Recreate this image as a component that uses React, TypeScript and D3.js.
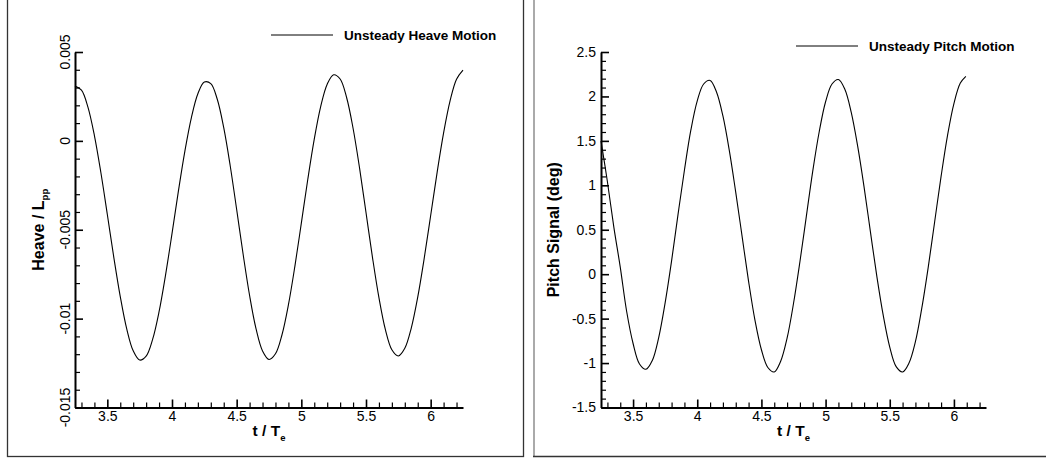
import React, { useEffect, useRef } from "react";
import * as d3 from "d3";

// time axis (t / Te) and tick labels shared by both panels
const xDomain = [3.25, 6.25];
const xTicks = [3.5, 4, 4.5, 5, 5.5, 6];
const xTickLabels = ["3.5", "4", "4.5", "5", "5.5", "6"];

// heave signal
const heaveTime = [
  3.25, 3.3, 3.35, 3.4, 3.45, 3.5, 3.55, 3.6, 3.65, 3.7, 3.75, 3.8, 3.85, 3.9, 3.95,
  4.0, 4.05, 4.1, 4.15, 4.2, 4.25, 4.3, 4.35, 4.4, 4.45, 4.5, 4.55, 4.6, 4.65, 4.7, 4.75,
  4.8, 4.85, 4.9, 4.95, 5.0, 5.05, 5.1, 5.15, 5.2, 5.25, 5.3, 5.35, 5.4, 5.45, 5.5, 5.55,
  5.6, 5.65, 5.7, 5.75, 5.8, 5.85, 5.9, 5.95, 6.0, 6.05, 6.1, 6.15, 6.2, 6.25,
];
const heaveValue = [
  0.00308, 0.00286, 0.0019, 0.0003, -0.00178, -0.00414, -0.00655, -0.00876, -0.01058,
  -0.01181, -0.01233, -0.01211, -0.01117, -0.00961, -0.00755, -0.00522, -0.0028, -0.00056,
  0.00131, 0.00265, 0.00331, 0.00322, 0.00234, 0.00074, -0.0014, -0.00386, -0.00638,
  -0.0087, -0.01058, -0.01182, -0.0123, -0.01198, -0.01092, -0.00923, -0.00706, -0.00463,
  -0.00216, 0.0001, 0.00194, 0.00319, 0.00372, 0.00348, 0.00244, 0.00071, -0.00152,
  -0.00403, -0.00655, -0.00882, -0.01062, -0.01175, -0.0121, -0.01167, -0.01053, -0.00879,
  -0.00661, -0.0042, -0.00177, 0.00045, 0.00225, 0.00347, 0.00398,
];
const heaveTicks = [-0.015, -0.01, -0.005, 0, 0.005];
const heaveTickLabels = ["-0.015", "-0.01", "-0.005", "0", "0.005"];

// pitch signal
const pitchTime = [
  3.25, 3.3, 3.35, 3.4, 3.45, 3.5, 3.55, 3.6, 3.65, 3.7, 3.75, 3.8, 3.85, 3.9, 3.95,
  4.0, 4.05, 4.1, 4.15, 4.2, 4.25, 4.3, 4.35, 4.4, 4.45, 4.5, 4.55, 4.6, 4.65, 4.7, 4.75,
  4.8, 4.85, 4.9, 4.95, 5.0, 5.05, 5.1, 5.15, 5.2, 5.25, 5.3, 5.35, 5.4, 5.45, 5.5, 5.55,
  5.6, 5.65, 5.7, 5.75, 5.8, 5.85, 5.9, 5.95, 6.0, 6.05, 6.093,
];
const pitchValue = [
  1.5, 1.04, 0.53, 0.08, -0.42, -0.78, -1.01, -1.07, -0.97, -0.71, -0.32, 0.15, 0.67,
  1.17, 1.62, 1.95, 2.14, 2.18, 2.05, 1.78, 1.39, 0.92, 0.42, -0.08, -0.52, -0.85, -1.05,
  -1.1, -0.98, -0.72, -0.33, 0.14, 0.65, 1.16, 1.6, 1.94, 2.14, 2.19, 2.08, 1.82, 1.44,
  0.98, 0.47, -0.03, -0.47, -0.82, -1.04, -1.1, -1.0, -0.76, -0.38, 0.08, 0.59, 1.1, 1.56,
  1.92, 2.15, 2.226,
];
const pitchTicks = [-1.5, -1, -0.5, 0, 0.5, 1, 1.5, 2, 2.5];
const pitchTickLabels = ["-1.5", "-1", "-0.5", "0", "0.5", "1", "1.5", "2", "2.5"];

const FONT = "'Liberation Sans', Arial, sans-serif";

const panels = [
  {
    key: "heave",
    time: heaveTime,
    value: heaveValue,
    yDomain: [-0.015, 0.005],
    yTicks: heaveTicks,
    yTickLabels: heaveTickLabels,
    yMinorStep: 0.001,
    rotateYLabels: true,
    left: 75,
    right: 463,
    top: 52,
    bottom: 407.5,
    title: "Heave / L",
    titleSub: "pp",
    titleX: 44,
    legend: "Unsteady Heave Motion",
    legendX: 271,
    legendY: 35,
  },
  {
    key: "pitch",
    time: pitchTime,
    value: pitchValue,
    yDomain: [-1.5, 2.5],
    yTicks: pitchTicks,
    yTickLabels: pitchTickLabels,
    yMinorStep: 0.1,
    rotateYLabels: false,
    left: 601,
    right: 986,
    top: 52,
    bottom: 407.5,
    title: "Pitch Signal (deg)",
    titleSub: "",
    titleX: 559,
    legend: "Unsteady Pitch Motion",
    legendX: 796,
    legendY: 46,
  },
];

const Panel = ({ cfg }) => {
  const ref = useRef(null);

  useEffect(() => {
    const g = d3.select(ref.current);
    g.selectAll("*").remove();

    const x = d3.scaleLinear().domain(xDomain).range([cfg.left, cfg.right]);
    const y = d3.scaleLinear().domain(cfg.yDomain).range([cfg.bottom, cfg.top]);

    const xMinor = d3
      .range(3.3, 6.25, 0.1)
      .map((d) => Math.round(d * 10) / 10)
      .filter((d) => !xTicks.includes(d));
    const n = Math.round((cfg.yDomain[1] - cfg.yDomain[0]) / cfg.yMinorStep);
    const yMinor = d3
      .range(0, n + 1)
      .map((i) => +(cfg.yDomain[0] + i * cfg.yMinorStep).toFixed(4))
      .filter((d) => !cfg.yTicks.some((t) => Math.abs(t - d) < 1e-9));

    // minor ticks
    g.append("g")
      .attr("transform", `translate(0,${cfg.bottom})`)
      .call(d3.axisBottom(x).tickValues(xMinor).tickSize(-5).tickFormat(() => ""))
      .call((s) => s.select(".domain").remove())
      .selectAll("line")
      .attr("stroke-width", 1.2);
    g.append("g")
      .attr("transform", `translate(${cfg.left},0)`)
      .call(d3.axisLeft(y).tickValues(yMinor).tickSize(-5).tickFormat(() => ""))
      .call((s) => s.select(".domain").remove())
      .selectAll("line")
      .attr("stroke-width", 1.2);

    // x axis
    const xa = g
      .append("g")
      .attr("transform", `translate(0,${cfg.bottom})`)
      .call(
        d3
          .axisBottom(x)
          .tickValues(xTicks)
          .tickSizeInner(-8)
          .tickSizeOuter(0)
          .tickPadding(4)
          .tickFormat((d, i) => xTickLabels[i])
      )
      .attr("font-family", FONT)
      .attr("font-size", 14);
    xa.select(".domain").attr("stroke-width", 2);
    xa.selectAll("line").attr("stroke-width", 1.6);

    // y axis
    const ya = g
      .append("g")
      .attr("transform", `translate(${cfg.left},0)`)
      .call(
        d3
          .axisLeft(y)
          .tickValues(cfg.yTicks)
          .tickSizeInner(-8)
          .tickSizeOuter(0)
          .tickPadding(5)
          .tickFormat((d, i) => (cfg.rotateYLabels ? "" : cfg.yTickLabels[i]))
      )
      .attr("font-family", FONT)
      .attr("font-size", 14);
    ya.select(".domain").attr("stroke-width", 2);
    ya.selectAll("line").attr("stroke-width", 1.6);

    if (cfg.rotateYLabels) {
      g.selectAll("text.ylab")
        .data(cfg.yTicks)
        .join("text")
        .attr("class", "ylab")
        .attr("transform", (d) => `translate(${cfg.left - 5},${y(d)}) rotate(-90)`)
        .attr("text-anchor", "middle")
        .attr("font-family", FONT)
        .attr("font-size", 14)
        .text((d, i) => cfg.yTickLabels[i]);
    }

    // axis titles
    const xt = g
      .append("text")
      .attr("x", (cfg.left + cfg.right) / 2)
      .attr("y", 436)
      .attr("text-anchor", "middle")
      .attr("font-family", FONT)
      .attr("font-weight", "bold")
      .attr("font-size", 15.5);
    xt.append("tspan").text("t / T");
    xt.append("tspan").attr("dy", 5).attr("font-size", 9.5).text("e");

    const yt = g
      .append("text")
      .attr("transform", `translate(${cfg.titleX},${(cfg.top + cfg.bottom) / 2}) rotate(-90)`)
      .attr("text-anchor", "middle")
      .attr("font-family", FONT)
      .attr("font-weight", "bold")
      .attr("font-size", 16);
    yt.append("tspan").text(cfg.title);
    if (cfg.titleSub) yt.append("tspan").attr("dy", 4).attr("font-size", 9.5).text(cfg.titleSub);

    // curve
    const line = d3
      .line()
      .x((d, i) => x(cfg.time[i]))
      .y((d) => y(d))
      .curve(d3.curveCatmullRom);
    g.append("path")
      .attr("d", line(cfg.value))
      .attr("fill", "none")
      .attr("stroke", "#000")
      .attr("stroke-width", 1.1);

    // legend
    g.append("line")
      .attr("x1", cfg.legendX)
      .attr("x2", cfg.legendX + 62)
      .attr("y1", cfg.legendY)
      .attr("y2", cfg.legendY)
      .attr("stroke", "#000")
      .attr("stroke-width", 1);
    g.append("text")
      .attr("x", cfg.legendX + 73)
      .attr("y", cfg.legendY)
      .attr("dy", "0.35em")
      .attr("font-family", FONT)
      .attr("font-weight", "bold")
      .attr("font-size", 13.5)
      .text(cfg.legend);
  }, [cfg]);

  return <g ref={ref}></g>;
};

export default function App() {
  return (
    <svg
      width={1046}
      height={459}
      style={{ position: "absolute", left: 0, top: 0, background: "#fff" }}
    >
      {/* panel frames */}
      <rect x={7.5} y={-5} width={516} height={461.5} fill="none" stroke="#333" strokeWidth={1.3} />
      <line x1={534} x2={534} y1={-5} y2={456} stroke="#aaa" strokeWidth={2} />
      <line x1={533} x2={1050} y1={456.5} y2={456.5} stroke="#333" strokeWidth={1.3} />
      {panels.map((p) => (
        <Panel key={p.key} cfg={p} />
      ))}
    </svg>
  );
}
